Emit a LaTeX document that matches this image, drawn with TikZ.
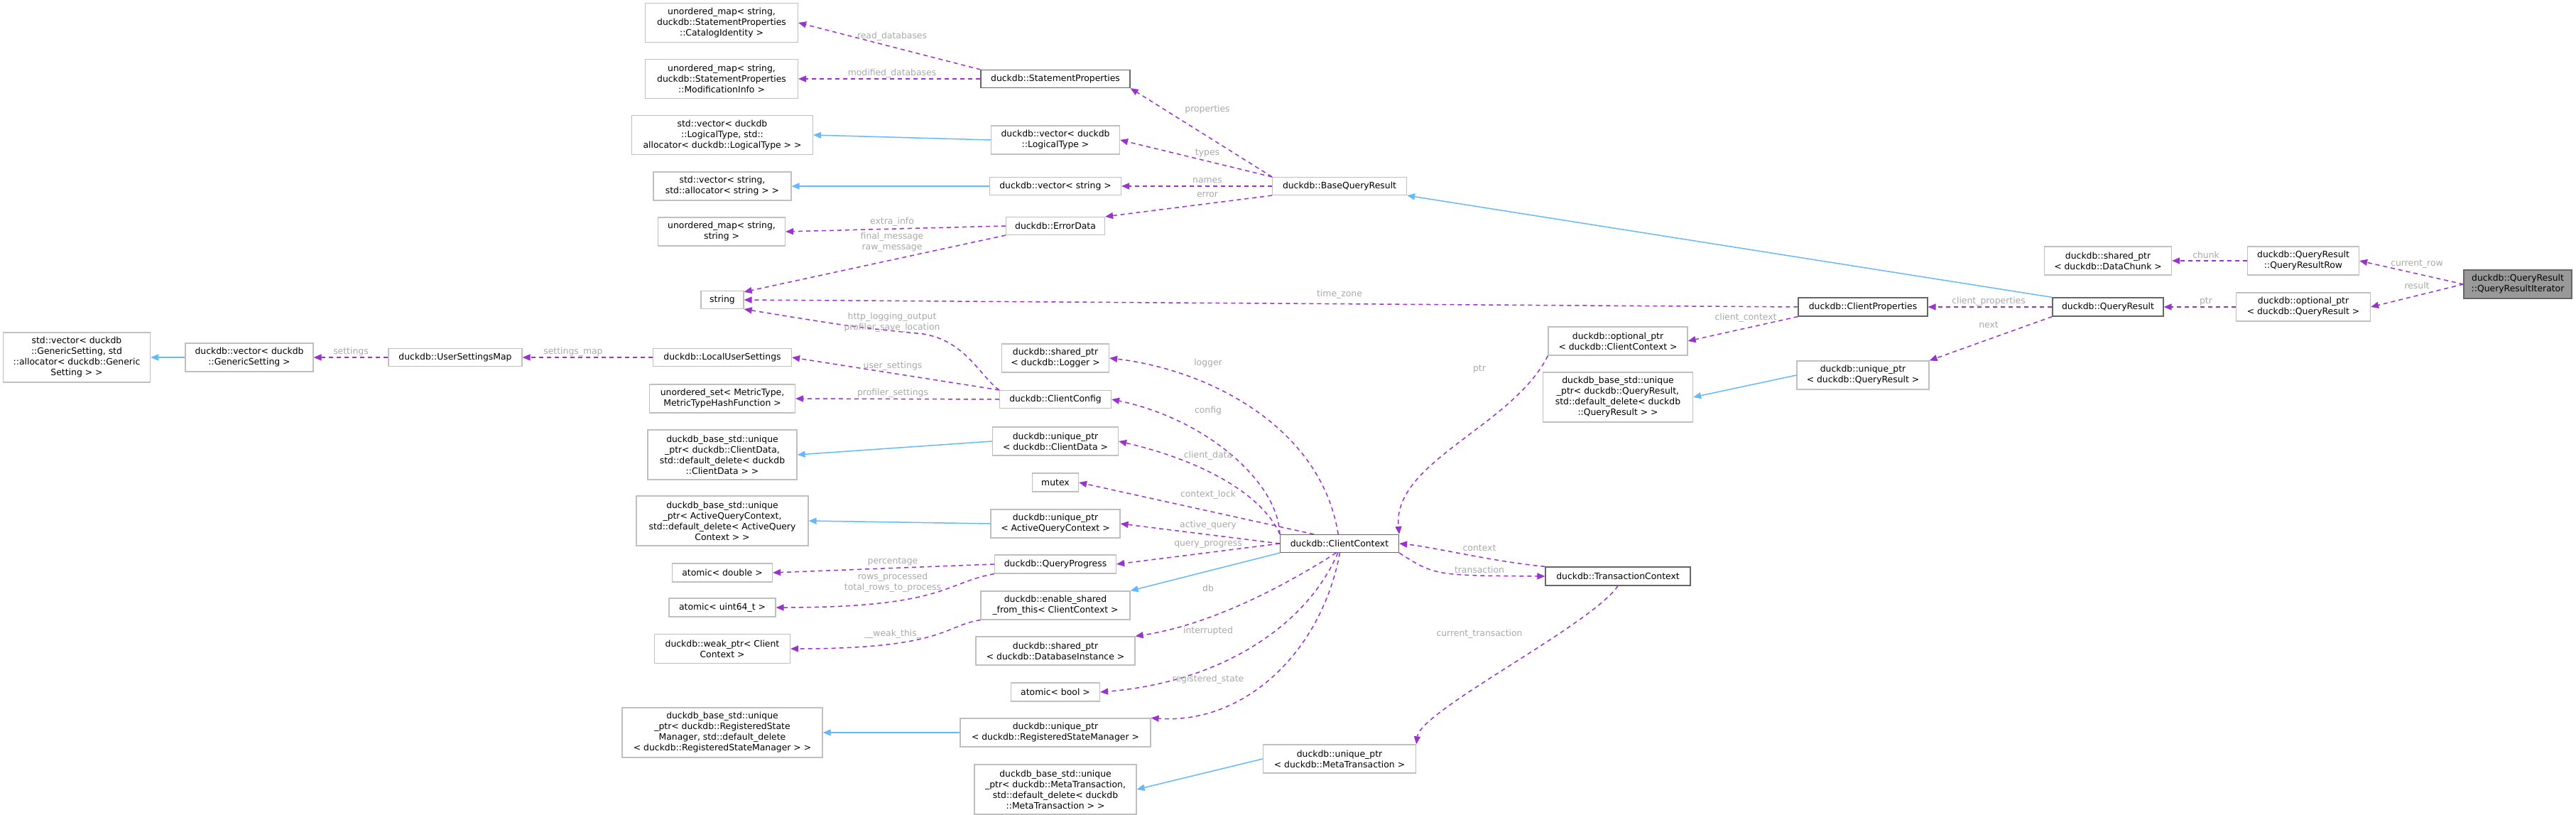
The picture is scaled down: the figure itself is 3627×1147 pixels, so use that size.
\documentclass[tikz,border=0pt]{standalone}
\usepackage{fontspec}
\setmainfont{DejaVu Sans}
\usetikzlibrary{arrows.meta}
\definecolor{dep}{HTML}{9A32CD}
\definecolor{inh}{HTML}{63B8FF}
\definecolor{lab}{HTML}{A8A8A8}
\begin{document}
\begin{tikzpicture}[x=1pt,y=-1pt,
  every node/.style={font=\fontsize{12.4}{15}\selectfont},
  box/.style={draw=black!25,line width=1.2pt,fill=white,align=center,inner sep=0pt},
  dk/.style={draw=black!60},
  dep/.style={draw=dep,line width=1.5pt,dash pattern=on 6pt off 5pt,-{Triangle[length=11pt,width=9pt]}},
  inh/.style={draw=inh,line width=1.5pt,-{Triangle[length=11pt,width=9pt,open,fill=inh]}},
  lb/.style={text=lab,inner sep=0pt}]
\useasboundingbox (0,0) rectangle (3627,1147);
% left columns
\node[box,minimum width=207pt,minimum height=70pt] (gsv) at (108,503) {std::vector< duckdb\\::GenericSetting, std\\::allocator< duckdb::Generic\\Setting > >};
\node[box,minimum width=180pt,minimum height=40pt] (vgs) at (351,503) {duckdb::vector< duckdb\\::GenericSetting >};
\node[box,minimum width=188pt,minimum height=25pt] (usm) at (641,503) {duckdb::UserSettingsMap};
\node[box,minimum width=215pt,minimum height=55pt] (n1) at (1016,32) {unordered\_map< string,\\duckdb::StatementProperties\\::CatalogIdentity >};
\node[box,minimum width=215pt,minimum height=55pt] (n2) at (1016,111) {unordered\_map< string,\\duckdb::StatementProperties\\::ModificationInfo >};
\node[box,minimum width=255pt,minimum height=55pt] (n3) at (1017,190) {std::vector< duckdb\\::LogicalType, std::\\allocator< duckdb::LogicalType > >};
\node[box,minimum width=194pt,minimum height=40pt] (n4) at (1017,262) {std::vector< string,\\std::allocator< string > >};
\node[box,minimum width=179pt,minimum height=40pt] (n5) at (1016,326) {unordered\_map< string,\\string >};
\node[box,minimum width=60pt,minimum height=25pt] (str) at (1017,422) {string};
\node[box,minimum width=195pt,minimum height=25pt] (lus) at (1017,503) {duckdb::LocalUserSettings};
\node[box,minimum width=205pt,minimum height=40pt] (mts) at (1017,561) {unordered\_set< MetricType,\\MetricTypeHashFunction >};
\node[box,minimum width=210pt,minimum height=70pt] (bcd) at (1017,640) {duckdb\_base\_std::unique\\\_ptr< duckdb::ClientData,\\std::default\_delete< duckdb\\::ClientData > >};
\node[box,minimum width=242pt,minimum height=70pt] (baq) at (1017,733) {duckdb\_base\_std::unique\\\_ptr< ActiveQueryContext,\\std::default\_delete< ActiveQuery\\Context > >};
\node[box,minimum width=141pt,minimum height=26pt] (adb) at (1017,806) {atomic< double >};
\node[box,minimum width=150pt,minimum height=26pt] (au64) at (1017,855) {atomic< uint64\_t >};
\node[box,minimum width=191pt,minimum height=41pt] (wp) at (1017,913) {duckdb::weak\_ptr< Client\\Context >};
\node[box,minimum width=282pt,minimum height=70pt] (brs) at (1017,1031) {duckdb\_base\_std::unique\\\_ptr< duckdb::RegisteredState\\Manager, std::default\_delete\\< duckdb::RegisteredStateManager > >};
% middle column
\node[box,dk,minimum width=210pt,minimum height=25pt] (sp) at (1486,111) {duckdb::StatementProperties};
\node[box,minimum width=181pt,minimum height=40pt] (vlt) at (1486,197) {duckdb::vector< duckdb\\::LogicalType >};
\node[box,minimum width=185pt,minimum height=25pt] (vs) at (1486,262) {duckdb::vector< string >};
\node[box,minimum width=139pt,minimum height=25pt] (ed) at (1486,318) {duckdb::ErrorData};
\node[box,minimum width=151pt,minimum height=40pt] (lg) at (1486,504) {duckdb::shared\_ptr\\< duckdb::Logger >};
\node[box,minimum width=157pt,minimum height=25pt] (cfg) at (1486,562) {duckdb::ClientConfig};
\node[box,minimum width=177pt,minimum height=40pt] (ucd) at (1486,621) {duckdb::unique\_ptr\\< duckdb::ClientData >};
\node[box,minimum width=65pt,minimum height=26pt] (mx) at (1486,679) {mutex};
\node[box,minimum width=182pt,minimum height=40pt] (uaq) at (1486,737) {duckdb::unique\_ptr\\< ActiveQueryContext >};
\node[box,minimum width=171pt,minimum height=26pt] (qp) at (1486,794) {duckdb::QueryProgress};
\node[box,minimum width=210pt,minimum height=40pt] (es) at (1486,852) {duckdb::enable\_shared\\\_from\_this< ClientContext >};
\node[box,minimum width=224pt,minimum height=40pt] (dbi) at (1486,916) {duckdb::shared\_ptr\\< duckdb::DatabaseInstance >};
\node[box,minimum width=125pt,minimum height=26pt] (ab) at (1486,974) {atomic< bool >};
\node[box,minimum width=268pt,minimum height=40pt] (urs) at (1486,1031) {duckdb::unique\_ptr\\< duckdb::RegisteredStateManager >};
\node[box,minimum width=228pt,minimum height=70pt] (bmt) at (1486,1111) {duckdb\_base\_std::unique\\\_ptr< duckdb::MetaTransaction,\\std::default\_delete< duckdb\\::MetaTransaction > >};
% right part
\node[box,minimum width=189pt,minimum height=25pt] (bqr) at (1886,262) {duckdb::BaseQueryResult};
\node[box,dk,minimum width=167pt,minimum height=25pt] (cc) at (1886,765) {duckdb::ClientContext};
\node[box,minimum width=215pt,minimum height=40pt] (umt) at (1886,1068) {duckdb::unique\_ptr\\< duckdb::MetaTransaction >};
\node[box,minimum width=196pt,minimum height=40pt] (occ) at (2278,480) {duckdb::optional\_ptr\\< duckdb::ClientContext >};
\node[box,minimum width=211pt,minimum height=70pt] (bqb) at (2278,559) {duckdb\_base\_std::unique\\\_ptr< duckdb::QueryResult,\\std::default\_delete< duckdb\\::QueryResult > >};
\node[box,dk,minimum width=204pt,minimum height=26pt] (tc) at (2278,811) {duckdb::TransactionContext};
\node[box,dk,minimum width=182pt,minimum height=26pt] (cp) at (2623,432) {duckdb::ClientProperties};
\node[box,minimum width=186pt,minimum height=40pt] (uqr) at (2623,528) {duckdb::unique\_ptr\\< duckdb::QueryResult >};
\node[box,dk,minimum width=156pt,minimum height=26pt] (qr) at (2968,432) {duckdb::QueryResult};
\node[box,minimum width=179pt,minimum height=40pt] (dc) at (2968,367) {duckdb::shared\_ptr\\< duckdb::DataChunk >};
\node[box,minimum width=157pt,minimum height=40pt] (qrr) at (3243,367) {duckdb::QueryResult\\::QueryResultRow};
\node[box,minimum width=189pt,minimum height=40pt] (oqr) at (3243,432) {duckdb::optional\_ptr\\< duckdb::QueryResult >};
\node[box,draw=black!60,fill=black!40,minimum width=152pt,minimum height=40pt] (qri) at (3545,400) {duckdb::QueryResult\\::QueryResultIterator};
% edges
\draw[dep] (qri.west) -- (qrr.east);
\draw[dep] (qri.west) -- (oqr.east);
\draw[dep] (qrr) -- (dc);
\draw[dep] (oqr) -- (qr);
\draw[dep] (qr) -- (cp);
\draw[dep] (qr.south west) -- (uqr.north east);
\draw[inh] (qr.north west) -- (bqr.south east);
\draw[dep] (cp.west) -- (str.east);
\draw[dep] (cp.south west) -- (occ.east);
\draw[dep] (occ.south west) .. controls (2130,600) and (1960,650) .. (cc.north east);
\draw[inh] (uqr.west) -- (bqb.east);
\draw[dep] (bqr.north west) -- (sp.south east);
\draw[dep] (bqr.north west) -- (vlt.east);
\draw[dep] (bqr) -- (vs);
\draw[dep] (bqr.south west) -- (ed.north east);
\draw[dep] (sp.north west) -- (n1.east);
\draw[dep] (sp.west) -- (n2.east);
\draw[inh] (vlt.west) -- (n3.east);
\draw[inh] (vs) -- (n4);
\draw[dep] (ed.west) -- (n5.east);
\draw[dep] (ed.south west) -- (str.20);
\draw[dep] (cfg.north west) .. controls (1380,530) and (1360,480) .. (1300,470) .. controls (1200,460) .. (str.south east);
\draw[dep] (cfg.north west) -- (lus.east);
\draw[dep] (cfg.west) -- (mts.east);
\draw[dep] (lus) -- (usm);
\draw[dep] (usm) -- (vgs);
\draw[inh] (vgs) -- (gsv);
\draw[inh] (ucd.west) -- (bcd.east);
\draw[inh] (uaq.west) -- (baq.east);
\draw[inh] (urs.west) -- (brs.east);
\draw[inh] (umt.west) -- (bmt.east);
\draw[dep] (qp.west) -- (adb.east);
\draw[dep] (qp.south west) .. controls (1330,820) and (1330,855) .. (au64.east);
\draw[dep] (es.south west) .. controls (1330,880) and (1330,913) .. (wp.east);
\draw[dep] (cc.98) .. controls (1860,600) and (1700,520) .. (lg.east);
\draw[dep] (cc.north west) .. controls (1800,680) and (1700,590) .. (cfg.east);
\draw[dep] (cc.north west) .. controls (1780,700) and (1700,650) .. (ucd.east);
\draw[dep] (cc.160) -- (mx.east);
\draw[dep] (cc.west) -- (uaq.east);
\draw[dep] (cc.west) -- (qp.east);
\draw[inh] (cc.south west) -- (es.north east);
\draw[dep] (cc.250) .. controls (1800,830) and (1700,880) .. (dbi.north east);
\draw[dep] (cc.260) .. controls (1840,880) and (1720,960) .. (ab.east);
\draw[dep] (cc.272) .. controls (1860,920) and (1750,1020) .. (urs.north east);
\draw[dep] (cc.south east) .. controls (2020,810) .. (tc.west);
\draw[dep] (tc.north west) .. controls (2100,790) and (2020,770) .. (cc.east);
\draw[dep] (tc.south) .. controls (2240,880) and (2000,1000) .. (umt.north east);
% labels
\node[lb] (l1) at (3403,372) {current\_row};
\node[lb] (l2) at (3403,402) {result};
\node[lb] (l3) at (3106,359) {chunk};
\node[lb] (l4) at (3106,424) {ptr};
\node[lb] (l5) at (2800,424) {client\_properties};
\node[lb] (l6) at (2800,457) {next};
\node[lb] (l7) at (2458,447) {client\_context};
\node[lb] (l8) at (2083,519) {ptr};
\node[lb] (l9) at (2083,771) {context};
\node[lb] (l10) at (2083,802) {transaction};
\node[lb] (l11) at (2083,892) {current\_transaction};
\node[lb] (l12) at (1886,414) {time\_zone};
\node[lb] (l13) at (1700,154) {properties};
\node[lb] (l14) at (1700,215) {types};
\node[lb] (l15) at (1700,254) {names};
\node[lb] (l16) at (1700,274) {error};
\node[lb] (l17) at (1256,51) {read\_databases};
\node[lb] (l18) at (1256,103) {modified\_databases};
\node[lb] (l19) at (1256,312) {extra\_info};
\node[lb,align=center] (l20) at (1256,341) {final\_message\\raw\_message};
\node[lb,align=center] (l21) at (1256,454) {http\_logging\_output\\profiler\_save\_location};
\node[lb] (l22) at (1257,515) {user\_settings};
\node[lb] (l23) at (1257,553) {profiler\_settings};
\node[lb] (l24) at (807,495) {settings\_map};
\node[lb] (l25) at (494,495) {settings};
\node[lb] (l26) at (1701,511) {logger};
\node[lb] (l27) at (1701,578) {config};
\node[lb] (l28) at (1701,641) {client\_data};
\node[lb] (l29) at (1701,696) {context\_lock};
\node[lb] (l30) at (1701,739) {active\_query};
\node[lb] (l31) at (1701,766) {query\_progress};
\node[lb] (l32) at (1701,828) {db};
\node[lb] (l33) at (1701,888) {interrupted};
\node[lb] (l34) at (1701,956) {registered\_state};
\node[lb] (l35) at (1257,790) {percentage};
\node[lb,align=center] (l36) at (1257,820) {rows\_processed\\total\_rows\_to\_process};
\node[lb] (l37) at (1257,892) {\_\_weak\_this\_};
\end{tikzpicture}
\end{document}
